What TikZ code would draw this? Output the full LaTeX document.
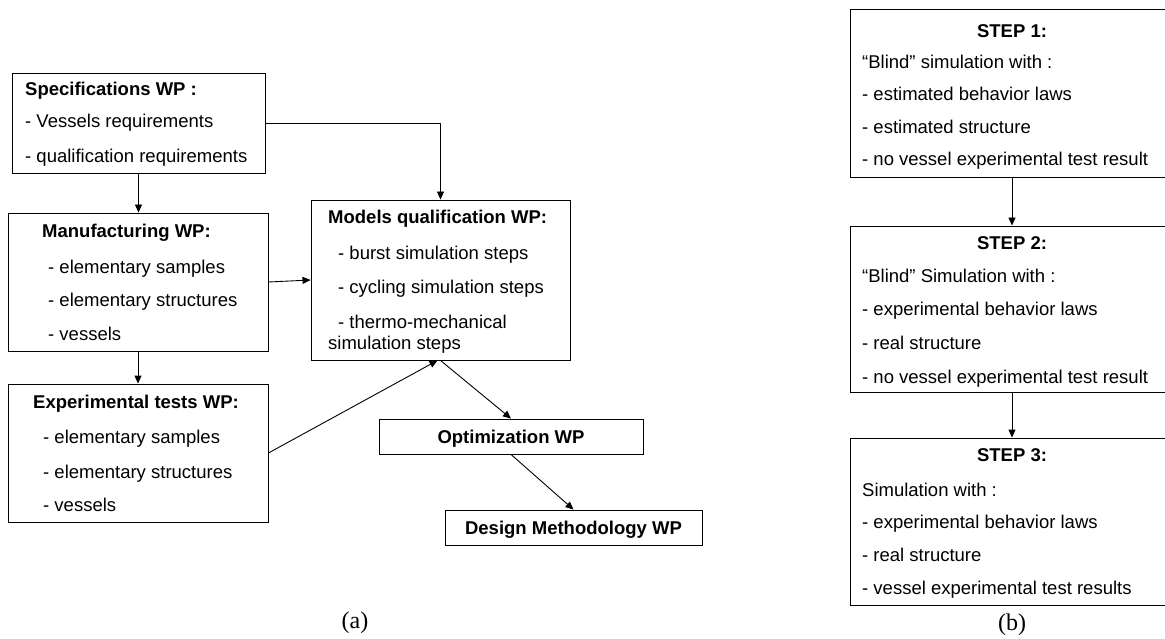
\documentclass[tikz,border=0pt]{standalone}
\usepackage{fontspec}
\setmainfont{Liberation Sans}
\newfontfamily\lblfont{Liberation Serif}
\usetikzlibrary{arrows.meta}
\begin{document}
\begin{tikzpicture}[x=1pt,y=-1pt,
  box/.style={draw, line width=0.9pt, inner sep=0pt},
  txt/.style={anchor=base west, inner sep=0pt, font=\fontsize{18.5}{22}\selectfont},
  ttl/.style={anchor=base west, inner sep=0pt, font=\fontsize{18.5}{22}\selectfont\bfseries},
  ctl/.style={anchor=base, inner sep=0pt, font=\fontsize{18.5}{22}\selectfont\bfseries},
  lbl/.style={inner sep=0pt, font=\fontsize{24}{28}\lblfont},
  arr/.style={line width=0.9pt, -{Triangle[length=8pt,width=7pt]}}]
\useasboundingbox (0,0) rectangle (1165,639);

% ---------- (a) ----------
\node[box, minimum width=253pt, minimum height=100pt] (spec) at (138.5,123) {};
\node[box, minimum width=260pt, minimum height=138pt] (manuf) at (138,282) {};
\node[box, minimum width=260pt, minimum height=138pt] (exp) at (138,453) {};
\node[box, minimum width=259pt, minimum height=160pt] (models) at (440.5,280) {};
\node[box, minimum width=264pt, minimum height=35pt] (opt) at (511,436.5) {};
\node[box, minimum width=257pt, minimum height=35pt] (design) at (573.5,527.5) {};

\node[ttl] (specT) at (25,96) {Specifications WP :};
\node[txt] (spec1) at (25,128) {- Vessels requirements};
\node[txt] (spec2) at (25,163) {- qualification requirements};

\node[ttl] (manT) at (42,238) {Manufacturing WP:};
\node[txt] (man1) at (48,273) {- elementary samples};
\node[txt] (man2) at (48,306) {- elementary structures};
\node[txt] (man3) at (48,340) {- vessels};

\node[ttl] (expT) at (33,408) {Experimental tests WP:};
\node[txt] (exp1) at (43,443) {- elementary samples};
\node[txt] (exp2) at (43,478) {- elementary structures};
\node[txt] (exp3) at (43,511) {- vessels};

\node[ttl] (modT) at (328,224) {Models qualification WP:};
\node[txt] (mod1) at (338,259) {- burst simulation steps};
\node[txt] (mod2) at (338,293) {- cycling simulation steps};
\node[txt] (mod3) at (338,328) {- thermo-mechanical};
\node[txt] (mod4) at (328,349) {simulation steps};

\node[ctl] (optT) at (511,443) {Optimization WP};
\node[ctl] (desT) at (573.5,534) {Design Methodology WP};

\draw[arr] (spec.south) -- (spec.south |- manuf.north);
\draw[arr] (manuf.south) -- (manuf.south |- exp.north);
\draw[arr] (spec.east) -| (models.north);
\draw[arr] (manuf.east) -- (models.west);
\draw[arr] (exp.east) -- ([xshift=-3pt]models.south);
\draw[arr] (models.south) -- (opt.north);
\draw[arr] (opt.south) -- (design.north);

\node[lbl] (la) at (355,623) {(a)};

% ---------- (b) ----------
\node[box, minimum width=324pt, minimum height=168pt] (s1) at (1012,93) {};
\node[box, minimum width=324pt, minimum height=166pt] (s2) at (1012,309) {};
\node[box, minimum width=324pt, minimum height=167pt] (s3) at (1012,521.5) {};

\node[ctl] (s1T) at (1012,38) {STEP 1:};
\node[txt] (s1a) at (862,69) {“Blind” simulation with :};
\node[txt] (s1b) at (862,101) {- estimated behavior laws};
\node[txt] (s1c) at (862,134) {- estimated structure};
\node[txt] (s1d) at (862,166) {- no vessel experimental test result};

\node[ctl] (s2T) at (1012,250) {STEP 2:};
\node[txt] (s2a) at (862,283) {“Blind” Simulation with :};
\node[txt] (s2b) at (862,316) {- experimental behavior laws};
\node[txt] (s2c) at (862,349) {- real structure};
\node[txt] (s2d) at (862,383) {- no vessel experimental test result};

\node[ctl] (s3T) at (1012,461) {STEP 3:};
\node[txt] (s3a) at (862,496) {Simulation with :};
\node[txt] (s3b) at (862,528) {- experimental behavior laws};
\node[txt] (s3c) at (862,561) {- real structure};
\node[txt] (s3d) at (862,594) {- vessel experimental test results};

\draw[arr] (s1.south) -- (s2.north);
\draw[arr] (s2.south) -- (s3.north);

\node[lbl] (lb) at (1012,625) {(b)};
\end{tikzpicture}
\end{document}
